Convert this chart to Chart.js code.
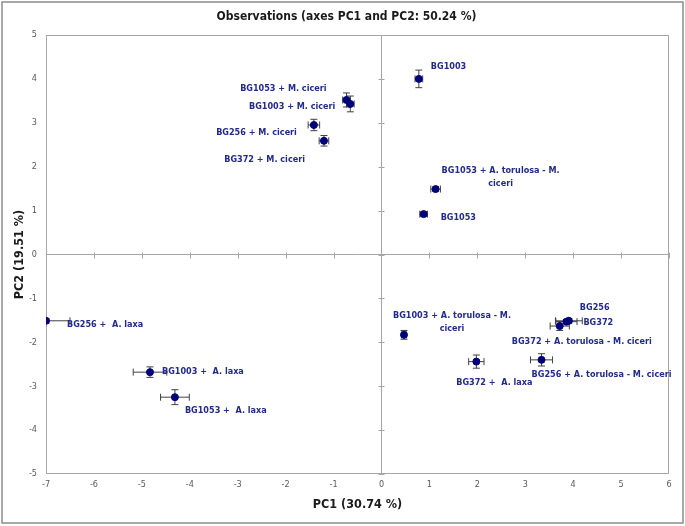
<!DOCTYPE html>
<html>
<head>
<meta charset="utf-8">
<title>Observations (axes PC1 and PC2: 50.24 %)</title>
<script src="https://cdn.jsdelivr.net/npm/chart.js@4.4.0/dist/chart.umd.min.js"></script>
<style>
  body { margin: 0; background: #fff; }
</style>
</head>
<body>
<canvas id="pcaChart" width="685" height="526"></canvas>
<script>
// observation scores on PC1 / PC2, with error bar half-widths
const names = [
  'BG1003', 'BG1053 + M. ciceri', 'BG1003 + M. ciceri', 'BG256 + M. ciceri', 'BG372 + M. ciceri',
  'BG1053 + A. torulosa - M.\nciceri', 'BG1053', 'BG256 +  A. laxa', 'BG1003 +  A. laxa', 'BG1053 +  A. laxa',
  'BG1003 + A. torulosa - M.\nciceri', 'BG256', 'BG372', 'BG372 + A. torulosa - M. ciceri',
  'BG372 +  A. laxa', 'BG256 + A. torulosa - M. ciceri'
];
const pc1 = [0.78, -0.73, -0.65, -1.41, -1.20, 1.13, 0.88, -7.00, -4.83, -4.31, 0.47, 3.91, 3.86, 3.72, 1.98, 3.34];
const pc2 = [4.00, 3.52, 3.43, 2.95, 2.59, 1.49, 0.92, -1.51, -2.68, -3.25, -1.83, -1.51, -1.53, -1.63, -2.44, -2.40];
const errPc1 = [0.08, 0.08, 0.08, 0.12, 0.10, 0.10, 0.08, 0.50, 0.35, 0.30, 0.05, 0.28, 0.22, 0.20, 0.16, 0.23];
const errPc2 = [0.20, 0.16, 0.18, 0.13, 0.12, 0.05, 0.05, 0.05, 0.12, 0.17, 0.10, 0.05, 0.05, 0.10, 0.15, 0.14];

// where each label sits relative to its marker (pixels) and how it is aligned
const labelDx = [12, -20, -15, -17, -19, 65, 17, 21, 12, 10, 48, 11, 17, 22, 18, 60];
const labelDy = [-12, -11, 3, 8, 19, -18, 4, 4, 0, 13, -19, -13, 1, 16, 21, 15];
const labelAlign = ['left', 'right', 'right', 'right', 'right', 'center', 'left', 'left', 'left', 'left',
  'center', 'left', 'left', 'center', 'center', 'center'];

const titleText = 'Observations (axes PC1 and PC2: 50.24 %)';
const xTitle = 'PC1 (30.74 %)';
const yTitle = 'PC2 (19.51 %)';

const narrow = "'Liberation Sans Narrow', 'DejaVu Sans Condensed', sans-serif";
const labelColor = '#222a8a';
const axisGray = '#a6a6a6';

const points = pc1.map((x, i) => ({ x: x, y: pc2[i] }));

const decorations = {
  id: 'decorations',
  beforeDraw(chart) {
    const ctx = chart.ctx;
    ctx.save();
    ctx.fillStyle = '#fff';
    ctx.fillRect(0, 0, chart.width, chart.height);
    ctx.strokeStyle = '#8c8c8c';
    ctx.lineWidth = 1.5;
    ctx.strokeRect(2, 2, chart.width - 4, chart.height - 5);
    ctx.restore();
  },
  beforeDatasetsDraw(chart) {
    const ctx = chart.ctx, a = chart.chartArea;
    const xs = chart.scales.x, ys = chart.scales.y;
    ctx.save();
    // plot frame
    ctx.strokeStyle = axisGray;
    ctx.lineWidth = 1;
    ctx.strokeRect(a.left + 0.5, a.top + 0.5, a.right - a.left - 1, a.bottom - a.top - 1);
    // little cross ticks on the zero lines
    const x0 = Math.round(xs.getPixelForValue(0)) + 0.5;
    const y0 = Math.round(ys.getPixelForValue(0)) + 0.5;
    ctx.beginPath();
    xs.ticks.forEach(t => {
      const px = Math.round(xs.getPixelForValue(t.value)) + 0.5;
      ctx.moveTo(px, y0 - 3); ctx.lineTo(px, y0 + 3);
    });
    ys.ticks.forEach(t => {
      const py = Math.round(ys.getPixelForValue(t.value)) + 0.5;
      ctx.moveTo(x0 - 3, py); ctx.lineTo(x0 + 3, py);
    });
    ctx.stroke();
    // error bars
    ctx.beginPath();
    ctx.rect(a.left, a.top, a.right - a.left, a.bottom - a.top);
    ctx.clip();
    ctx.strokeStyle = '#404040';
    ctx.lineWidth = 1;
    ctx.beginPath();
    const cap = 3.5;
    points.forEach((p, i) => {
      const cx = xs.getPixelForValue(p.x), cy = ys.getPixelForValue(p.y);
      const xl = xs.getPixelForValue(p.x - errPc1[i]), xr = xs.getPixelForValue(p.x + errPc1[i]);
      const yt = ys.getPixelForValue(p.y + errPc2[i]), yb = ys.getPixelForValue(p.y - errPc2[i]);
      ctx.moveTo(xl, cy); ctx.lineTo(xr, cy);
      ctx.moveTo(xl, cy - cap); ctx.lineTo(xl, cy + cap);
      ctx.moveTo(xr, cy - cap); ctx.lineTo(xr, cy + cap);
      ctx.moveTo(cx, yt); ctx.lineTo(cx, yb);
      ctx.moveTo(cx - cap, yt); ctx.lineTo(cx + cap, yt);
      ctx.moveTo(cx - cap, yb); ctx.lineTo(cx + cap, yb);
    });
    ctx.stroke();
    ctx.restore();
  },
  afterDatasetsDraw(chart) {
    const ctx = chart.ctx, a = chart.chartArea;
    const xs = chart.scales.x, ys = chart.scales.y;
    ctx.save();
    // point labels
    ctx.fillStyle = labelColor;
    ctx.font = 'bold 9px ' + narrow;
    ctx.textBaseline = 'middle';
    points.forEach((p, i) => {
      const px = xs.getPixelForValue(p.x) + labelDx[i];
      const py = ys.getPixelForValue(p.y) + labelDy[i];
      ctx.textAlign = labelAlign[i];
      names[i].split('\n').forEach((line, k) => {
        ctx.fillText(line, px, py + k * 13);
      });
    });
    // titles
    ctx.fillStyle = '#1a1a1a';
    ctx.textAlign = 'center';
    ctx.font = 'bold 12px ' + narrow;
    ctx.fillText(titleText, chart.width / 2 + 4, 17);
    ctx.font = 'bold 12.5px ' + narrow;
    ctx.fillText(xTitle, (a.left + a.right) / 2, 505);
    ctx.translate(20, (a.top + a.bottom) / 2);
    ctx.rotate(-Math.PI / 2);
    ctx.fillText(yTitle, 0, 0);
    ctx.restore();
  }
};

new Chart(document.getElementById('pcaChart'), {
  type: 'scatter',
  data: {
    datasets: [{
      label: 'Observations',
      data: points,
      backgroundColor: '#00007a',
      borderColor: '#00007a',
      pointRadius: 3.5,
      pointHoverRadius: 3.5
    }]
  },
  options: {
    responsive: false,
    animation: false,
    layout: { padding: { top: 35, right: 16, left: 0, bottom: 0 } },
    plugins: {
      legend: { display: false },
      tooltip: { enabled: false }
    },
    scales: {
      x: {
        type: 'linear',
        min: -7,
        max: 6,
        afterFit: s => { s.height = 52; },
        border: { display: false },
        grid: {
          drawTicks: false,
          color: c => (c.tick && c.tick.value === 0 ? axisGray : 'rgba(0,0,0,0)')
        },
        ticks: {
          stepSize: 1,
          padding: 5,
          color: '#595959',
          font: { size: 9, family: narrow }
        }
      },
      y: {
        type: 'linear',
        min: -5,
        max: 5,
        afterFit: s => { s.width = 46; },
        border: { display: false },
        grid: {
          drawTicks: false,
          color: c => (c.tick && c.tick.value === 0 ? axisGray : 'rgba(0,0,0,0)')
        },
        ticks: {
          stepSize: 1,
          padding: 9,
          color: '#595959',
          font: { size: 9, family: narrow }
        }
      }
    }
  },
  plugins: [decorations]
});
</script>
</body>
</html>
